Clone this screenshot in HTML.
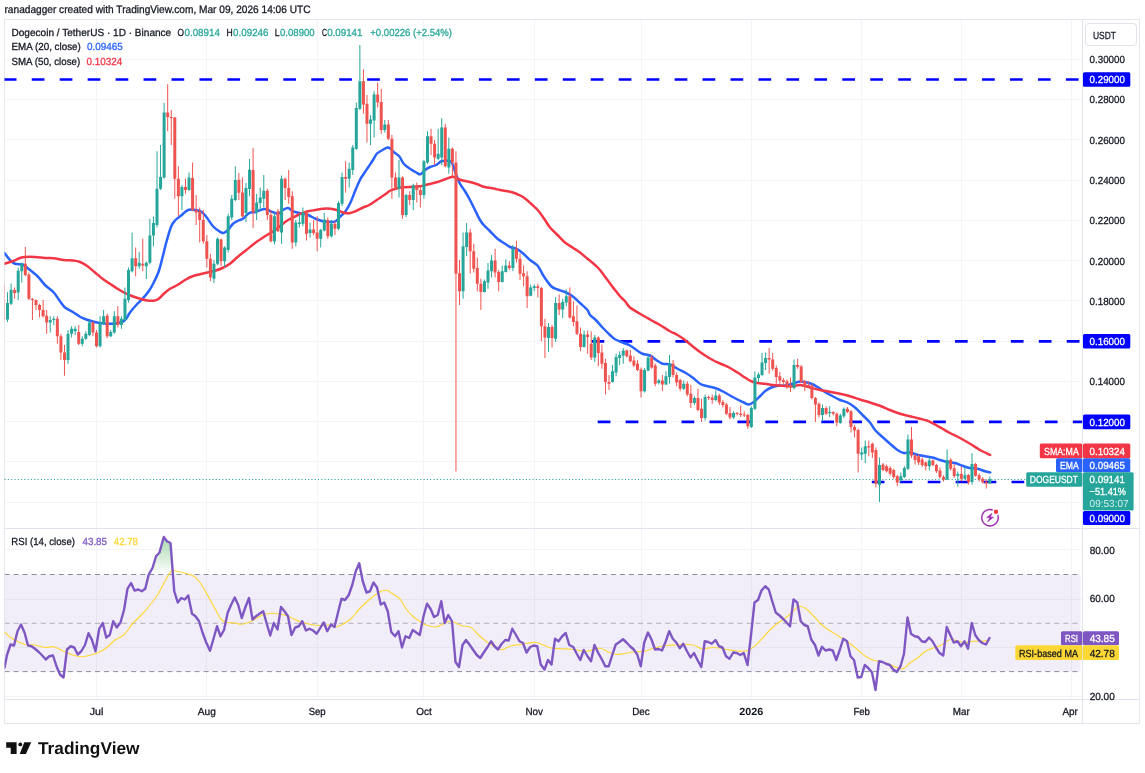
<!DOCTYPE html>
<html lang="en"><head><meta charset="utf-8"><title>DOGEUSDT chart</title>
<style>html,body{margin:0;padding:0;background:#fff}body{width:1145px;height:773px;position:relative;overflow:hidden;font-family:'Liberation Sans', sans-serif}</style>
</head><body>
<svg width="1145" height="773" viewBox="0 0 1145 773" style="position:absolute;left:0;top:0;font-family:'Liberation Sans', sans-serif;text-rendering:geometricPrecision">
<defs><linearGradient id="ob" gradientUnits="userSpaceOnUse" x1="0" y1="532" x2="0" y2="574.5"><stop offset="0" stop-color="#4caf50" stop-opacity="0.55"/><stop offset="1" stop-color="#4caf50" stop-opacity="0"/></linearGradient>
<clipPath id="cp"><rect x="4.5" y="19.5" width="1078.0" height="509.0"/></clipPath>
<clipPath id="cr"><rect x="4.5" y="528.5" width="1078.0" height="171.0"/></clipPath>
<clipPath id="c70"><rect x="4.5" y="528.5" width="1078.0" height="46.0"/></clipPath></defs>
<rect x="0" y="0" width="1145" height="773" fill="#fff"/>
<path d="M96.5 19.5V699.5 M206.5 19.5V699.5 M317.5 19.5V699.5 M423.5 19.5V699.5 M534.5 19.5V699.5 M641.5 19.5V699.5 M751.5 19.5V699.5 M861.5 19.5V699.5 M961.5 19.5V699.5 M1071.5 19.5V699.5 M4.5 59.5H1082.5 M4.5 99.5H1082.5 M4.5 139.5H1082.5 M4.5 180.5H1082.5 M4.5 220.5H1082.5 M4.5 260.5H1082.5 M4.5 300.5H1082.5 M4.5 341.5H1082.5 M4.5 381.5H1082.5 M4.5 421.5H1082.5 M4.5 461.5H1082.5 M4.5 502.5H1082.5 M4.5 549.5H1082.5 M4.5 599.5H1082.5 M4.5 647.5H1082.5 M4.5 696.5H1082.5" stroke="#f3f4f8" stroke-width="1" fill="none"/>
<rect x="4.5" y="574.50" width="1076.0" height="97.10" fill="#7e57c2" fill-opacity="0.1"/>
<path d="M4.5 574.50H1080" stroke="#787b86" stroke-opacity="0.85" stroke-width="1" stroke-dasharray="5 4.05" fill="none"/>
<path d="M4.5 671.60H1080" stroke="#787b86" stroke-opacity="0.85" stroke-width="1" stroke-dasharray="5 4.05" fill="none"/>
<path d="M4.5 623.30H1080" stroke="#787b86" stroke-opacity="0.55" stroke-width="1" stroke-dasharray="5 4.05" fill="none"/>
<rect x="4.5" y="19.5" width="1135.0" height="704.0" fill="none" stroke="#e4e6ed" stroke-width="1"/>
<path d="M4.5 528.5H1139.5M4.5 699.5H1139.5M1082.5 19.5V723.5" stroke="#e0e3eb" stroke-width="1" fill="none"/>
<path d="M4.5 479.5H1082.5" stroke="#26a69a" stroke-width="1" stroke-dasharray="1.1 2.2" fill="none"/>
<g clip-path="url(#cp)">
<path d="M3.8 79.50H1082.5" stroke="#0000ff" stroke-width="2.7" stroke-dasharray="12.7 15.25" fill="none"/>
<path d="M591.6 341.30H1082.5" stroke="#0000ff" stroke-width="2.7" stroke-dasharray="12.7 15.25" fill="none"/>
<path d="M597.7 421.90H1082.5" stroke="#0000ff" stroke-width="2.7" stroke-dasharray="12.7 15.25" fill="none"/>
<path d="M871.8 482.00H1026" stroke="#0000ff" stroke-width="2.7" stroke-dasharray="12.7 15.25" fill="none"/>
<path d="M4.50 253.00C5.42 254.17 8.25 258.21 10.00 260.00C11.75 261.79 12.92 263.00 15.00 263.75C17.08 264.50 20.42 263.79 22.50 264.50C24.58 265.21 25.00 266.04 27.50 268.00C30.00 269.96 34.58 273.42 37.50 276.25C40.42 279.08 42.29 282.29 45.00 285.00C47.71 287.71 51.25 289.79 53.75 292.50C56.25 295.21 58.12 298.75 60.00 301.25C61.88 303.75 62.92 305.75 65.00 307.50C67.08 309.25 70.00 310.21 72.50 311.75C75.00 313.29 77.71 315.46 80.00 316.75C82.29 318.04 83.96 318.67 86.25 319.50C88.54 320.33 91.46 321.17 93.75 321.75C96.04 322.33 97.71 322.67 100.00 323.00C102.29 323.33 105.00 323.67 107.50 323.75C110.00 323.83 112.50 323.83 115.00 323.50C117.50 323.17 120.62 322.54 122.50 321.75C124.38 320.96 125.00 320.29 126.25 318.75C127.50 317.21 128.33 314.79 130.00 312.50C131.67 310.21 134.17 307.29 136.25 305.00C138.33 302.71 140.42 301.04 142.50 298.75C144.58 296.46 146.88 293.96 148.75 291.25C150.62 288.54 152.08 285.83 153.75 282.50C155.42 279.17 157.29 275.42 158.75 271.25C160.21 267.08 161.25 262.29 162.50 257.50C163.75 252.71 164.79 247.71 166.25 242.50C167.71 237.29 169.71 230.00 171.25 226.25C172.79 222.50 173.75 221.88 175.50 220.00C177.25 218.12 179.67 216.67 181.75 215.00C183.83 213.33 185.71 210.83 188.00 210.00C190.29 209.17 193.21 209.67 195.50 210.00C197.79 210.33 199.88 210.75 201.75 212.00C203.62 213.25 204.88 215.12 206.75 217.50C208.62 219.88 210.92 223.96 213.00 226.25C215.08 228.54 217.50 230.12 219.25 231.25C221.00 232.38 222.04 233.21 223.50 233.00C224.96 232.79 226.42 231.54 228.00 230.00C229.58 228.46 231.33 225.29 233.00 223.75C234.67 222.21 236.33 221.58 238.00 220.75C239.67 219.92 241.12 220.04 243.00 218.75C244.88 217.46 247.17 214.12 249.25 213.00C251.33 211.88 253.00 212.67 255.50 212.00C258.00 211.33 261.75 209.12 264.25 209.00C266.75 208.88 268.21 210.46 270.50 211.25C272.79 212.04 275.92 213.96 278.00 213.75C280.08 213.54 281.33 210.96 283.00 210.00C284.67 209.04 286.33 207.79 288.00 208.00C289.67 208.21 290.92 210.38 293.00 211.25C295.08 212.12 298.00 212.62 300.50 213.25C303.00 213.88 305.50 214.08 308.00 215.00C310.50 215.92 313.00 217.71 315.50 218.75C318.00 219.79 320.50 220.71 323.00 221.25C325.50 221.79 328.42 222.00 330.50 222.00C332.58 222.00 333.83 222.21 335.50 221.25C337.17 220.29 338.83 217.92 340.50 216.25C342.17 214.58 343.83 213.54 345.50 211.25C347.17 208.96 348.83 206.04 350.50 202.50C352.17 198.96 353.83 193.96 355.50 190.00C357.17 186.04 359.25 181.25 360.50 178.75C361.75 176.25 361.75 176.88 363.00 175.00C364.25 173.12 366.33 170.00 368.00 167.50C369.67 165.00 371.54 162.29 373.00 160.00C374.46 157.71 375.29 155.33 376.75 153.75C378.21 152.17 379.96 151.54 381.75 150.50C383.54 149.46 386.04 147.79 387.50 147.50C388.96 147.21 389.38 147.92 390.50 148.75C391.62 149.58 392.79 151.25 394.25 152.50C395.71 153.75 397.67 154.38 399.25 156.25C400.83 158.12 401.96 161.67 403.75 163.75C405.54 165.83 407.92 167.29 410.00 168.75C412.08 170.21 414.50 171.58 416.25 172.50C418.00 173.42 419.04 174.67 420.50 174.25C421.96 173.83 423.42 171.21 425.00 170.00C426.58 168.79 428.12 167.83 430.00 167.00C431.88 166.17 434.38 165.96 436.25 165.00C438.12 164.04 439.58 161.96 441.25 161.25C442.92 160.54 444.58 160.67 446.25 160.75C447.92 160.83 450.00 160.62 451.25 161.75C452.50 162.88 452.92 165.29 453.75 167.50C454.58 169.71 455.21 172.29 456.25 175.00C457.29 177.71 458.54 181.04 460.00 183.75C461.46 186.46 463.33 188.54 465.00 191.25C466.67 193.96 468.33 196.88 470.00 200.00C471.67 203.12 473.33 206.67 475.00 210.00C476.67 213.33 478.54 217.50 480.00 220.00C481.46 222.50 482.08 223.12 483.75 225.00C485.42 226.88 487.71 228.96 490.00 231.25C492.29 233.54 495.00 236.67 497.50 238.75C500.00 240.83 502.92 242.38 505.00 243.75C507.08 245.12 508.12 246.17 510.00 247.00C511.88 247.83 514.17 247.75 516.25 248.75C518.33 249.75 520.21 251.12 522.50 253.00C524.79 254.88 527.50 257.92 530.00 260.00C532.50 262.08 535.21 262.79 537.50 265.50C539.79 268.21 541.46 272.79 543.75 276.25C546.04 279.71 548.96 284.04 551.25 286.25C553.54 288.46 555.21 288.54 557.50 289.50C559.79 290.46 562.50 290.88 565.00 292.00C567.50 293.12 570.00 294.42 572.50 296.25C575.00 298.08 577.50 300.71 580.00 303.00C582.50 305.29 585.83 308.00 587.50 310.00C589.17 312.00 588.54 313.25 590.00 315.00C591.46 316.75 594.17 318.42 596.25 320.50C598.33 322.58 600.21 325.08 602.50 327.50C604.79 329.92 607.92 333.04 610.00 335.00C612.08 336.96 612.92 338.00 615.00 339.25C617.08 340.50 620.00 341.46 622.50 342.50C625.00 343.54 627.50 344.12 630.00 345.50C632.50 346.88 635.42 349.38 637.50 350.75C639.58 352.12 640.42 352.96 642.50 353.75C644.58 354.54 647.71 354.46 650.00 355.50C652.29 356.54 654.17 358.62 656.25 360.00C658.33 361.38 660.21 363.00 662.50 363.75C664.79 364.50 667.50 363.67 670.00 364.50C672.50 365.33 675.00 367.42 677.50 368.75C680.00 370.08 682.50 371.04 685.00 372.50C687.50 373.96 690.00 375.62 692.50 377.50C695.00 379.38 697.50 382.29 700.00 383.75C702.50 385.21 705.00 385.54 707.50 386.25C710.00 386.96 712.50 387.17 715.00 388.00C717.50 388.83 720.00 390.00 722.50 391.25C725.00 392.50 727.50 394.12 730.00 395.50C732.50 396.88 735.21 398.33 737.50 399.50C739.79 400.67 741.88 401.67 743.75 402.50C745.62 403.33 747.08 404.58 748.75 404.50C750.42 404.42 751.88 403.38 753.75 402.00C755.62 400.62 758.12 398.04 760.00 396.25C761.88 394.46 763.12 392.71 765.00 391.25C766.88 389.79 769.17 388.42 771.25 387.50C773.33 386.58 775.21 386.08 777.50 385.75C779.79 385.42 782.50 385.83 785.00 385.50C787.50 385.17 790.21 384.38 792.50 383.75C794.79 383.12 796.67 382.04 798.75 381.75C800.83 381.46 802.92 381.67 805.00 382.00C807.08 382.33 809.17 382.92 811.25 383.75C813.33 384.58 815.42 385.75 817.50 387.00C819.58 388.25 821.46 389.83 823.75 391.25C826.04 392.67 828.54 394.04 831.25 395.50C833.96 396.96 837.29 398.83 840.00 400.00C842.71 401.17 845.00 401.25 847.50 402.50C850.00 403.75 852.50 405.42 855.00 407.50C857.50 409.58 860.00 412.50 862.50 415.00C865.00 417.50 867.92 420.00 870.00 422.50C872.08 425.00 872.92 427.58 875.00 430.00C877.08 432.42 880.00 434.71 882.50 437.00C885.00 439.29 887.50 441.58 890.00 443.75C892.50 445.92 895.21 448.46 897.50 450.00C899.79 451.54 901.67 452.58 903.75 453.00C905.83 453.42 907.92 452.25 910.00 452.50C912.08 452.75 913.75 453.88 916.25 454.50C918.75 455.12 922.29 455.75 925.00 456.25C927.71 456.75 930.00 456.88 932.50 457.50C935.00 458.12 937.50 459.25 940.00 460.00C942.50 460.75 945.00 461.50 947.50 462.00C950.00 462.50 952.50 462.38 955.00 463.00C957.50 463.62 960.00 464.92 962.50 465.75C965.00 466.58 967.50 467.50 970.00 468.00C972.50 468.50 975.00 468.21 977.50 468.75C980.00 469.29 982.88 470.64 985.00 471.25C987.12 471.86 989.33 472.21 990.20 472.40" stroke="#2962ff" stroke-width="2.5" fill="none" stroke-linejoin="round" stroke-linecap="round"/>
<path d="M4.50 263.75C5.83 263.33 9.92 262.21 12.50 261.25C15.08 260.29 17.92 258.71 20.00 258.00C22.08 257.29 22.50 257.17 25.00 257.00C27.50 256.83 31.67 256.83 35.00 257.00C38.33 257.17 41.88 257.79 45.00 258.00C48.12 258.21 50.62 257.92 53.75 258.25C56.88 258.58 60.62 259.62 63.75 260.00C66.88 260.38 69.79 260.17 72.50 260.50C75.21 260.83 77.50 261.04 80.00 262.00C82.50 262.96 85.00 264.50 87.50 266.25C90.00 268.00 92.50 270.42 95.00 272.50C97.50 274.58 100.00 276.88 102.50 278.75C105.00 280.62 107.50 282.08 110.00 283.75C112.50 285.42 115.00 287.21 117.50 288.75C120.00 290.29 122.50 291.75 125.00 293.00C127.50 294.25 130.00 295.29 132.50 296.25C135.00 297.21 137.50 298.04 140.00 298.75C142.50 299.46 145.21 300.17 147.50 300.50C149.79 300.83 151.88 301.04 153.75 300.75C155.62 300.46 157.08 299.92 158.75 298.75C160.42 297.58 161.88 295.42 163.75 293.75C165.62 292.08 167.71 290.21 170.00 288.75C172.29 287.29 175.00 286.46 177.50 285.00C180.00 283.54 182.50 281.46 185.00 280.00C187.50 278.54 190.00 277.21 192.50 276.25C195.00 275.29 197.50 274.88 200.00 274.25C202.50 273.62 205.00 273.08 207.50 272.50C210.00 271.92 212.50 271.50 215.00 270.75C217.50 270.00 220.00 269.17 222.50 268.00C225.00 266.83 227.50 265.58 230.00 263.75C232.50 261.92 234.79 259.29 237.50 257.00C240.21 254.71 243.33 252.33 246.25 250.00C249.17 247.67 251.88 245.29 255.00 243.00C258.12 240.71 261.67 238.42 265.00 236.25C268.33 234.08 271.46 232.50 275.00 230.00C278.54 227.50 283.25 223.33 286.25 221.25C289.25 219.17 290.62 218.75 293.00 217.50C295.38 216.25 298.00 214.79 300.50 213.75C303.00 212.71 305.50 211.88 308.00 211.25C310.50 210.62 313.00 210.42 315.50 210.00C318.00 209.58 320.50 208.96 323.00 208.75C325.50 208.54 328.21 208.54 330.50 208.75C332.79 208.96 334.67 209.38 336.75 210.00C338.83 210.62 340.92 211.96 343.00 212.50C345.08 213.04 347.17 213.46 349.25 213.25C351.33 213.04 353.21 212.21 355.50 211.25C357.79 210.29 360.71 208.54 363.00 207.50C365.29 206.46 366.96 206.25 369.25 205.00C371.54 203.75 374.25 201.67 376.75 200.00C379.25 198.33 381.96 196.58 384.25 195.00C386.54 193.42 388.21 191.67 390.50 190.50C392.79 189.33 396.42 188.50 398.00 188.00C399.58 187.50 398.00 187.67 400.00 187.50C402.00 187.33 406.67 187.21 410.00 187.00C413.33 186.79 417.08 186.67 420.00 186.25C422.92 185.83 424.58 185.21 427.50 184.50C430.42 183.79 434.58 182.88 437.50 182.00C440.42 181.12 442.50 180.12 445.00 179.25C447.50 178.38 450.62 176.92 452.50 176.75C454.38 176.58 454.58 177.62 456.25 178.25C457.92 178.88 460.21 179.88 462.50 180.50C464.79 181.12 467.50 181.38 470.00 182.00C472.50 182.62 475.21 183.46 477.50 184.25C479.79 185.04 481.25 186.08 483.75 186.75C486.25 187.42 489.79 187.71 492.50 188.25C495.21 188.79 497.08 189.42 500.00 190.00C502.92 190.58 507.08 191.04 510.00 191.75C512.92 192.46 515.21 193.29 517.50 194.25C519.79 195.21 521.25 195.71 523.75 197.50C526.25 199.29 530.00 202.71 532.50 205.00C535.00 207.29 536.67 208.75 538.75 211.25C540.83 213.75 543.12 217.29 545.00 220.00C546.88 222.71 547.92 225.00 550.00 227.50C552.08 230.00 555.00 232.50 557.50 235.00C560.00 237.50 562.50 240.42 565.00 242.50C567.50 244.58 570.00 245.83 572.50 247.50C575.00 249.17 577.50 250.62 580.00 252.50C582.50 254.38 585.00 256.67 587.50 258.75C590.00 260.83 592.92 263.12 595.00 265.00C597.08 266.88 597.92 267.50 600.00 270.00C602.08 272.50 605.00 276.67 607.50 280.00C610.00 283.33 612.92 287.29 615.00 290.00C617.08 292.71 618.33 294.38 620.00 296.25C621.67 298.12 623.33 299.38 625.00 301.25C626.67 303.12 627.50 305.42 630.00 307.50C632.50 309.58 636.67 311.75 640.00 313.75C643.33 315.75 646.67 317.62 650.00 319.50C653.33 321.38 656.67 323.04 660.00 325.00C663.33 326.96 667.08 329.58 670.00 331.25C672.92 332.92 675.00 333.54 677.50 335.00C680.00 336.46 682.50 338.12 685.00 340.00C687.50 341.88 690.00 344.25 692.50 346.25C695.00 348.25 697.50 350.21 700.00 352.00C702.50 353.79 705.00 355.46 707.50 357.00C710.00 358.54 712.50 360.00 715.00 361.25C717.50 362.50 720.00 363.38 722.50 364.50C725.00 365.62 727.50 366.67 730.00 368.00C732.50 369.33 735.00 370.92 737.50 372.50C740.00 374.08 742.71 376.04 745.00 377.50C747.29 378.96 749.17 380.33 751.25 381.25C753.33 382.17 755.21 382.58 757.50 383.00C759.79 383.42 762.50 383.42 765.00 383.75C767.50 384.08 769.58 384.67 772.50 385.00C775.42 385.33 779.17 385.54 782.50 385.75C785.83 385.96 789.58 386.38 792.50 386.25C795.42 386.12 797.08 384.79 800.00 385.00C802.92 385.21 806.67 386.67 810.00 387.50C813.33 388.33 816.67 389.29 820.00 390.00C823.33 390.71 826.67 391.12 830.00 391.75C833.33 392.38 836.67 393.00 840.00 393.75C843.33 394.50 846.67 395.29 850.00 396.25C853.33 397.21 856.67 398.46 860.00 399.50C863.33 400.54 866.67 401.46 870.00 402.50C873.33 403.54 876.67 404.50 880.00 405.75C883.33 407.00 886.67 408.67 890.00 410.00C893.33 411.33 896.67 412.71 900.00 413.75C903.33 414.79 906.67 415.42 910.00 416.25C913.33 417.08 917.08 418.00 920.00 418.75C922.92 419.50 925.00 419.79 927.50 420.75C930.00 421.71 932.50 423.17 935.00 424.50C937.50 425.83 940.00 427.33 942.50 428.75C945.00 430.17 947.08 431.46 950.00 433.00C952.92 434.54 956.67 436.21 960.00 438.00C963.33 439.79 966.67 441.75 970.00 443.75C973.33 445.75 976.63 448.12 980.00 450.00C983.37 451.88 988.50 454.17 990.20 455.00" stroke="#f23645" stroke-width="2.5" fill="none" stroke-linejoin="round" stroke-linecap="round"/>
<path d="M7.52 292.20V322.00M11.08 283.40V305.00M18.20 267.50V300.00M21.76 262.50V282.50M50.23 316.25V332.50M53.79 316.25V325.00M68.03 330.00V363.75M71.59 326.25V337.50M75.15 326.25V335.00M82.26 336.25V346.25M85.82 331.25V340.00M89.38 320.00V336.25M100.06 316.25V347.50M103.62 310.00V325.00M110.74 330.00V337.00M114.30 311.25V333.75M121.41 316.25V328.75M124.97 287.50V321.25M128.53 267.50V302.50M132.09 232.50V272.50M139.21 252.00V268.70M146.33 261.50V279.00M149.88 218.90V264.50M153.44 216.40V246.20M157.00 151.25V227.50M160.56 145.00V190.00M164.12 103.00V178.75M181.92 185.00V210.00M189.03 172.50V191.25M213.95 260.00V283.00M217.51 237.50V265.00M224.62 246.25V267.50M228.18 213.75V252.50M231.74 195.00V220.00M235.30 166.25V201.25M245.98 183.00V222.00M249.54 159.00V196.30M256.65 193.75V220.00M260.21 187.50V210.00M263.77 175.00V207.50M274.45 212.90V244.40M281.57 175.50V243.75M295.80 220.00V246.25M299.36 213.75V227.50M302.92 207.50V226.25M310.04 222.50V237.50M320.72 228.75V247.50M324.28 213.00V231.50M331.39 220.00V237.50M338.51 201.25V230.00M342.07 172.50V206.25M349.19 162.50V187.50M352.75 145.00V175.00M356.31 102.50V150.00M359.87 45.00V110.00M370.54 115.00V145.00M374.10 91.25V137.50M384.78 120.00V132.50M399.01 160.00V197.50M406.13 193.75V217.00M413.25 183.75V210.00M423.93 160.00V198.75M427.49 131.25V163.75M438.16 128.75V160.00M441.72 118.25V165.00M448.84 137.50V173.75M463.08 232.50V298.75M466.64 223.00V256.25M484.43 279.50V292.50M487.99 263.00V288.75M491.55 255.00V277.50M502.23 265.50V282.50M505.79 259.50V272.50M512.90 245.00V271.25M530.70 284.50V296.25M534.26 284.50V291.25M548.49 323.00V352.00M555.61 297.00V342.00M562.73 298.75V318.00M566.29 289.50V306.25M584.08 330.50V347.50M594.76 335.00V362.00M612.56 365.00V382.50M616.11 353.75V376.25M619.67 351.25V365.00M623.23 348.00V363.75M644.59 368.00V392.50M648.14 355.50V371.25M658.82 378.75V384.50M665.94 371.25V385.00M669.50 355.00V383.75M683.74 380.50V390.00M694.41 396.25V405.00M705.09 394.50V420.50M715.77 390.50V401.25M733.56 411.25V418.75M751.36 406.25V428.00M754.92 371.25V410.00M758.47 372.50V382.00M762.03 353.00V376.25M765.59 352.50V370.00M794.06 359.50V389.50M822.54 404.50V421.25M829.65 406.25V417.00M840.33 413.75V423.75M843.89 407.50V418.00M861.69 447.50V460.00M865.24 440.50V463.00M879.48 457.50V502.00M900.83 472.50V482.00M904.39 466.25V478.00M907.95 434.50V470.00M929.31 457.50V470.50M947.10 449.30V480.20M957.78 471.40V486.60M964.90 466.80V479.60M972.01 453.20V484.60M989.81 476.50V483.80" stroke="#26a69a" stroke-width="1" fill="none"/>
<path d="M3.97 284.00V320.00M14.64 287.50V298.75M25.32 247.00V276.25M28.88 272.50V300.00M32.44 298.25V320.00M36.00 299.50V310.00M39.56 303.75V317.50M43.11 300.00V317.50M46.67 310.00V333.75M57.35 316.25V343.75M60.91 333.75V360.00M64.47 345.00V375.75M78.70 325.00V345.00M92.94 321.25V336.25M96.50 330.00V347.50M107.18 313.75V338.00M117.85 306.25V327.50M135.65 247.50V276.25M142.77 238.75V271.25M167.68 84.25V131.25M171.24 110.00V145.00M174.80 117.00V198.75M178.36 166.25V216.25M185.48 178.75V193.75M192.59 162.50V211.25M196.15 195.00V225.00M199.71 207.50V242.50M203.27 210.00V243.75M206.83 235.00V267.50M210.39 253.75V281.25M221.06 238.75V266.25M238.86 173.00V200.00M242.42 177.50V217.50M253.10 148.00V228.00M267.33 188.75V220.00M270.89 210.00V242.50M278.01 208.80V232.00M285.13 177.50V200.00M288.69 170.00V203.75M292.25 191.25V248.75M306.48 210.00V240.50M313.60 220.00V235.00M317.16 216.25V251.25M327.84 217.50V238.75M334.95 221.25V235.00M345.63 161.25V192.50M363.43 69.50V113.75M366.98 95.00V142.50M377.66 82.50V107.50M381.22 88.75V133.75M388.34 120.00V140.00M391.90 135.00V198.75M395.46 172.50V190.00M402.57 176.25V218.75M409.69 191.25V205.00M416.81 182.50V202.50M420.37 185.00V207.50M431.05 128.75V155.00M434.61 140.00V165.00M445.28 123.75V167.50M452.40 147.50V176.25M455.96 151.25V471.50M459.52 260.00V305.00M470.19 228.75V273.75M473.75 243.75V272.50M477.31 257.50V291.25M480.87 278.75V310.00M495.11 248.75V277.50M498.67 270.00V291.25M509.34 261.25V270.00M516.46 240.75V262.50M520.02 253.75V280.00M523.58 265.50V286.25M527.14 271.25V308.00M537.82 283.75V297.50M541.38 287.00V341.25M544.93 318.75V358.00M552.05 325.00V347.50M559.17 294.50V315.00M569.85 287.50V318.75M573.41 301.25V326.25M576.97 305.50V335.00M580.52 327.50V351.25M587.64 330.50V353.75M591.20 331.25V360.00M598.32 336.25V366.25M601.88 344.50V368.75M605.44 358.75V394.50M609.00 375.00V390.00M626.79 349.50V357.50M630.35 350.00V362.50M633.91 356.25V367.00M637.47 360.00V371.25M641.03 367.50V397.50M651.70 355.00V368.75M655.26 363.75V386.25M662.38 375.00V391.25M673.06 360.00V377.50M676.62 372.50V386.25M680.18 378.75V391.25M687.29 381.25V396.25M690.85 385.00V408.00M697.97 388.75V411.25M701.53 398.75V422.00M708.65 395.50V400.00M712.21 394.50V403.75M719.33 393.75V405.00M722.88 400.00V407.50M726.44 403.00V415.00M730.00 407.00V419.50M737.12 412.00V415.50M740.68 405.50V417.00M744.24 411.25V417.00M747.80 413.75V428.75M769.15 348.00V373.75M772.71 353.00V370.50M776.27 365.50V383.75M779.83 372.00V383.75M783.39 378.00V383.75M786.95 379.50V388.75M790.50 377.50V392.00M797.62 358.75V368.75M801.18 365.00V383.00M804.74 380.00V391.25M808.30 381.25V388.00M811.86 383.75V399.50M815.42 397.00V422.00M818.98 402.50V417.50M826.10 406.25V415.00M833.21 411.25V415.50M836.77 412.50V426.25M847.45 407.00V413.00M851.01 410.00V432.50M854.57 425.00V437.50M858.13 428.75V472.50M868.80 440.50V456.25M872.36 442.50V458.00M875.92 447.50V487.50M883.04 463.00V471.25M886.60 464.50V472.50M890.16 466.25V475.50M893.72 468.75V478.75M897.28 475.00V486.25M911.51 427.00V458.00M915.07 453.75V464.50M918.63 454.50V465.00M922.19 457.50V467.00M925.75 461.25V470.50M932.87 459.50V466.25M936.42 463.75V473.00M939.98 467.50V478.75M943.54 475.30V481.50M950.66 458.20V470.70M954.22 464.10V478.00M961.34 466.40V481.10M968.46 474.10V484.60M975.57 462.90V476.50M979.13 473.40V481.50M982.69 477.20V483.50M986.25 479.20V488.50" stroke="#ef5350" stroke-width="1" fill="none"/>
<path d="M6.02 303.00h3.0V319.60h-3.0zM9.58 289.80h3.0V303.80h-3.0zM16.70 270.75h3.0V292.50h-3.0zM20.26 263.75h3.0V271.25h-3.0zM48.73 320.00h3.0V322.50h-3.0zM52.29 318.75h3.0V320.00h-3.0zM66.53 333.75h3.0V360.00h-3.0zM70.09 328.75h3.0V333.75h-3.0zM73.65 328.75h3.0V331.25h-3.0zM80.76 338.75h3.0V343.75h-3.0zM84.32 333.75h3.0V338.75h-3.0zM87.88 322.50h3.0V335.00h-3.0zM98.56 322.50h3.0V346.25h-3.0zM102.12 316.25h3.0V323.75h-3.0zM109.24 332.00h3.0V336.25h-3.0zM112.80 316.25h3.0V332.50h-3.0zM119.91 318.75h3.0V325.00h-3.0zM123.47 298.75h3.0V320.00h-3.0zM127.03 270.00h3.0V300.00h-3.0zM130.59 258.25h3.0V271.25h-3.0zM137.71 262.80h3.0V266.20h-3.0zM144.83 262.80h3.0V266.20h-3.0zM148.38 235.50h3.0V262.80h-3.0zM151.94 223.00h3.0V235.50h-3.0zM155.50 188.75h3.0V225.00h-3.0zM159.06 177.00h3.0V188.75h-3.0zM162.62 112.50h3.0V177.50h-3.0zM180.42 187.00h3.0V196.25h-3.0zM187.53 177.50h3.0V190.00h-3.0zM212.45 263.75h3.0V278.75h-3.0zM216.01 238.75h3.0V263.75h-3.0zM223.12 247.50h3.0V261.25h-3.0zM226.68 216.25h3.0V250.00h-3.0zM230.24 198.75h3.0V217.50h-3.0zM233.80 180.00h3.0V200.00h-3.0zM244.48 188.00h3.0V213.00h-3.0zM248.04 169.80h3.0V188.90h-3.0zM255.15 202.50h3.0V212.50h-3.0zM258.71 197.50h3.0V203.00h-3.0zM262.27 190.75h3.0V198.75h-3.0zM272.95 216.20h3.0V241.40h-3.0zM280.07 178.75h3.0V232.50h-3.0zM294.30 222.50h3.0V242.50h-3.0zM297.86 222.50h3.0V224.00h-3.0zM301.42 212.50h3.0V223.75h-3.0zM308.54 229.50h3.0V233.00h-3.0zM319.22 230.00h3.0V238.75h-3.0zM322.78 219.60h3.0V230.40h-3.0zM329.89 223.75h3.0V236.25h-3.0zM337.01 203.00h3.0V228.75h-3.0zM340.57 177.00h3.0V203.75h-3.0zM347.69 168.75h3.0V178.75h-3.0zM351.25 147.50h3.0V170.00h-3.0zM354.81 108.00h3.0V148.75h-3.0zM358.37 81.25h3.0V108.75h-3.0zM369.04 119.50h3.0V123.75h-3.0zM372.60 94.50h3.0V120.50h-3.0zM383.28 124.50h3.0V130.00h-3.0zM397.51 177.50h3.0V188.75h-3.0zM404.63 195.00h3.0V215.00h-3.0zM411.75 185.50h3.0V200.00h-3.0zM422.43 161.25h3.0V195.00h-3.0zM425.99 136.25h3.0V162.50h-3.0zM436.66 153.75h3.0V158.75h-3.0zM440.22 127.50h3.0V157.50h-3.0zM447.34 148.75h3.0V167.50h-3.0zM461.58 246.25h3.0V291.25h-3.0zM465.14 232.50h3.0V247.00h-3.0zM482.93 281.25h3.0V292.00h-3.0zM486.49 270.50h3.0V282.50h-3.0zM490.05 260.50h3.0V271.25h-3.0zM500.73 271.25h3.0V282.00h-3.0zM504.29 265.50h3.0V272.00h-3.0zM511.40 248.75h3.0V268.00h-3.0zM529.20 287.50h3.0V295.75h-3.0zM532.76 286.25h3.0V288.00h-3.0zM546.99 327.00h3.0V338.00h-3.0zM554.11 303.00h3.0V338.75h-3.0zM561.23 302.00h3.0V309.50h-3.0zM564.79 296.25h3.0V302.50h-3.0zM582.58 334.50h3.0V347.00h-3.0zM593.26 337.50h3.0V357.50h-3.0zM611.06 371.25h3.0V382.00h-3.0zM614.61 357.00h3.0V372.50h-3.0zM618.17 355.00h3.0V358.00h-3.0zM621.73 350.50h3.0V355.50h-3.0zM643.09 370.00h3.0V391.25h-3.0zM646.64 357.50h3.0V370.50h-3.0zM657.32 380.50h3.0V383.00h-3.0zM664.44 376.25h3.0V384.50h-3.0zM668.00 363.75h3.0V377.00h-3.0zM682.24 383.75h3.0V388.75h-3.0zM692.91 398.00h3.0V403.00h-3.0zM703.59 397.00h3.0V418.00h-3.0zM714.27 395.50h3.0V400.00h-3.0zM732.06 413.00h3.0V417.50h-3.0zM749.86 408.00h3.0V427.00h-3.0zM753.42 377.50h3.0V408.75h-3.0zM756.97 374.50h3.0V378.00h-3.0zM760.53 362.50h3.0V375.00h-3.0zM764.09 358.00h3.0V363.00h-3.0zM792.56 365.00h3.0V388.00h-3.0zM821.04 408.00h3.0V415.00h-3.0zM828.15 412.00h3.0V413.00h-3.0zM838.83 415.50h3.0V423.00h-3.0zM842.39 408.75h3.0V416.25h-3.0zM860.19 452.50h3.0V454.50h-3.0zM863.74 446.25h3.0V453.75h-3.0zM877.98 465.00h3.0V485.00h-3.0zM899.33 476.25h3.0V480.50h-3.0zM902.89 468.00h3.0V477.00h-3.0zM906.45 439.50h3.0V468.75h-3.0zM927.81 460.50h3.0V466.25h-3.0zM945.60 460.20h3.0V479.60h-3.0zM956.28 474.10h3.0V475.70h-3.0zM963.40 475.30h3.0V478.80h-3.0zM970.51 464.10h3.0V481.90h-3.0zM988.31 479.20h3.0V483.50h-3.0z" fill="#26a69a"/>
<path d="M13.14 290.00h3.0V293.00h-3.0zM23.82 263.75h3.0V275.00h-3.0zM27.38 274.50h3.0V298.75h-3.0zM30.94 298.75h3.0V300.00h-3.0zM34.50 300.00h3.0V305.00h-3.0zM38.06 305.00h3.0V310.00h-3.0zM41.61 310.00h3.0V316.25h-3.0zM45.17 315.75h3.0V322.50h-3.0zM55.85 318.75h3.0V336.25h-3.0zM59.41 336.25h3.0V352.50h-3.0zM62.97 352.50h3.0V360.00h-3.0zM77.20 332.00h3.0V343.75h-3.0zM91.44 322.50h3.0V332.50h-3.0zM95.00 332.50h3.0V346.25h-3.0zM105.68 315.75h3.0V336.25h-3.0zM116.35 316.25h3.0V325.00h-3.0zM134.15 258.25h3.0V266.25h-3.0zM141.27 263.75h3.0V265.50h-3.0zM166.18 112.50h3.0V117.00h-3.0zM169.74 117.00h3.0V118.00h-3.0zM173.30 117.50h3.0V178.75h-3.0zM176.86 178.75h3.0V196.25h-3.0zM183.98 187.00h3.0V190.00h-3.0zM191.09 178.00h3.0V210.00h-3.0zM194.65 210.00h3.0V212.50h-3.0zM198.21 211.25h3.0V220.00h-3.0zM201.77 220.00h3.0V241.25h-3.0zM205.33 241.25h3.0V258.75h-3.0zM208.89 258.75h3.0V277.50h-3.0zM219.56 239.50h3.0V261.25h-3.0zM237.36 179.75h3.0V192.70h-3.0zM240.92 192.50h3.0V216.25h-3.0zM251.60 170.00h3.0V212.50h-3.0zM265.83 190.75h3.0V215.00h-3.0zM269.39 215.00h3.0V241.25h-3.0zM276.51 211.30h3.0V231.20h-3.0zM283.63 178.75h3.0V188.00h-3.0zM287.19 188.00h3.0V197.00h-3.0zM290.75 196.25h3.0V242.50h-3.0zM304.98 212.50h3.0V233.75h-3.0zM312.10 229.50h3.0V233.00h-3.0zM315.66 232.50h3.0V238.75h-3.0zM326.34 220.00h3.0V236.25h-3.0zM333.45 223.75h3.0V228.75h-3.0zM344.13 177.00h3.0V178.75h-3.0zM361.93 81.25h3.0V104.50h-3.0zM365.48 103.75h3.0V123.75h-3.0zM376.16 94.50h3.0V102.50h-3.0zM379.72 102.00h3.0V130.00h-3.0zM386.84 124.50h3.0V138.75h-3.0zM390.40 138.75h3.0V177.50h-3.0zM393.96 177.50h3.0V187.50h-3.0zM401.07 177.50h3.0V215.00h-3.0zM408.19 195.00h3.0V200.00h-3.0zM415.31 186.25h3.0V190.00h-3.0zM418.87 190.00h3.0V195.00h-3.0zM429.55 136.25h3.0V143.75h-3.0zM433.11 143.75h3.0V157.50h-3.0zM443.78 127.50h3.0V166.25h-3.0zM450.90 148.75h3.0V162.50h-3.0zM454.46 162.50h3.0V273.75h-3.0zM458.02 273.25h3.0V291.25h-3.0zM468.69 232.50h3.0V251.25h-3.0zM472.25 251.25h3.0V268.75h-3.0zM475.81 268.00h3.0V283.75h-3.0zM479.37 283.75h3.0V292.00h-3.0zM493.61 260.50h3.0V272.50h-3.0zM497.17 272.00h3.0V282.00h-3.0zM507.84 265.50h3.0V268.00h-3.0zM514.96 248.75h3.0V258.75h-3.0zM518.52 258.75h3.0V273.75h-3.0zM522.08 273.25h3.0V276.25h-3.0zM525.64 276.25h3.0V296.25h-3.0zM536.32 286.25h3.0V288.00h-3.0zM539.88 288.00h3.0V326.25h-3.0zM543.43 326.25h3.0V337.50h-3.0zM550.55 327.00h3.0V338.00h-3.0zM557.67 303.00h3.0V309.50h-3.0zM568.35 296.25h3.0V317.50h-3.0zM571.91 316.25h3.0V322.00h-3.0zM575.47 321.25h3.0V333.75h-3.0zM579.02 333.75h3.0V347.00h-3.0zM586.14 334.50h3.0V337.00h-3.0zM589.70 343.75h3.0V357.50h-3.0zM596.82 337.50h3.0V353.00h-3.0zM600.38 352.50h3.0V363.75h-3.0zM603.94 363.00h3.0V382.00h-3.0zM607.50 382.00h3.0V383.75h-3.0zM625.29 350.50h3.0V356.25h-3.0zM628.85 355.50h3.0V361.25h-3.0zM632.41 360.50h3.0V365.50h-3.0zM635.97 363.75h3.0V370.00h-3.0zM639.53 369.50h3.0V391.25h-3.0zM650.20 357.50h3.0V367.50h-3.0zM653.76 365.50h3.0V383.75h-3.0zM660.88 380.50h3.0V384.50h-3.0zM671.56 363.75h3.0V375.00h-3.0zM675.12 375.00h3.0V382.50h-3.0zM678.68 380.00h3.0V388.75h-3.0zM685.79 383.75h3.0V394.50h-3.0zM689.35 393.75h3.0V403.00h-3.0zM696.47 398.00h3.0V410.00h-3.0zM700.03 408.75h3.0V418.00h-3.0zM707.15 397.00h3.0V398.00h-3.0zM710.71 397.50h3.0V400.00h-3.0zM717.83 395.50h3.0V402.50h-3.0zM721.38 402.00h3.0V405.00h-3.0zM724.94 404.50h3.0V413.75h-3.0zM728.50 413.00h3.0V417.50h-3.0zM735.62 413.00h3.0V414.00h-3.0zM739.18 413.75h3.0V415.00h-3.0zM742.74 414.50h3.0V415.50h-3.0zM746.30 415.00h3.0V426.25h-3.0zM767.65 358.00h3.0V359.50h-3.0zM771.21 359.50h3.0V368.75h-3.0zM774.77 368.00h3.0V377.00h-3.0zM778.33 376.25h3.0V380.50h-3.0zM781.89 380.00h3.0V382.00h-3.0zM785.45 381.25h3.0V386.25h-3.0zM789.00 385.00h3.0V387.50h-3.0zM796.12 365.00h3.0V367.00h-3.0zM799.68 366.50h3.0V382.00h-3.0zM803.24 381.25h3.0V387.00h-3.0zM806.80 385.00h3.0V386.25h-3.0zM810.36 385.50h3.0V398.00h-3.0zM813.92 398.00h3.0V404.50h-3.0zM817.48 403.75h3.0V415.00h-3.0zM824.60 408.00h3.0V413.75h-3.0zM831.71 412.00h3.0V413.75h-3.0zM835.27 413.75h3.0V422.50h-3.0zM845.95 408.75h3.0V412.00h-3.0zM849.51 411.25h3.0V427.00h-3.0zM853.07 427.00h3.0V430.50h-3.0zM856.63 430.00h3.0V453.75h-3.0zM867.30 446.25h3.0V447.50h-3.0zM870.86 443.75h3.0V452.50h-3.0zM874.42 450.00h3.0V483.75h-3.0zM881.54 464.50h3.0V470.00h-3.0zM885.10 466.25h3.0V471.25h-3.0zM888.66 468.00h3.0V473.75h-3.0zM892.22 470.00h3.0V477.00h-3.0zM895.78 476.25h3.0V482.50h-3.0zM910.01 439.50h3.0V455.50h-3.0zM913.57 455.50h3.0V460.00h-3.0zM917.13 456.25h3.0V462.50h-3.0zM920.69 459.50h3.0V465.00h-3.0zM924.25 462.50h3.0V466.25h-3.0zM931.37 460.50h3.0V465.00h-3.0zM934.92 465.00h3.0V471.25h-3.0zM938.48 470.50h3.0V477.00h-3.0zM942.04 476.90h3.0V479.60h-3.0zM949.16 459.80h3.0V468.70h-3.0zM952.72 468.30h3.0V476.10h-3.0zM959.84 474.10h3.0V478.80h-3.0zM966.96 474.90h3.0V482.30h-3.0zM974.07 464.10h3.0V475.70h-3.0zM977.63 475.30h3.0V479.60h-3.0zM981.19 478.80h3.0V482.30h-3.0zM984.75 481.90h3.0V483.50h-3.0z" fill="#ef5350"/>
</g>
<g clip-path="url(#c70)"><path d="M4.50 667.50L7.00 655.00L10.50 644.50L14.00 645.50L17.50 631.25L21.00 624.50L24.50 632.50L28.00 645.50L31.50 646.25L35.00 648.75L38.75 652.00L42.25 655.50L45.75 659.50L49.25 656.25L53.00 655.50L56.50 666.25L60.00 674.50L63.50 677.50L67.00 649.50L70.75 646.25L74.25 647.50L77.75 654.50L81.25 651.25L85.00 645.00L88.50 633.25L92.00 640.00L95.50 651.25L99.25 628.75L102.75 623.00L106.25 637.50L109.75 635.00L113.25 621.25L116.75 627.50L120.50 622.50L124.00 610.00L127.50 588.75L131.00 583.00L134.50 590.50L138.25 589.50L141.75 591.25L145.25 588.75L148.75 574.50L152.50 568.00L156.00 556.25L159.50 552.50L163.75 537.00L167.00 541.25L170.50 543.00L174.25 591.25L177.75 602.50L181.25 598.00L184.75 599.50L188.25 595.50L192.00 613.75L195.50 616.25L199.00 621.25L202.50 632.50L206.00 642.00L210.00 650.75L213.50 638.75L217.00 626.25L220.50 636.25L224.00 630.00L227.75 612.50L231.25 604.50L234.75 597.50L238.25 605.00L241.75 618.00L245.25 607.50L249.00 598.00L252.50 619.50L256.00 616.25L259.50 613.75L263.25 611.25L266.75 623.75L270.25 635.50L273.75 623.00L277.50 629.50L281.00 607.00L284.50 611.25L288.00 616.25L291.50 635.00L295.25 627.50L298.75 626.25L302.25 621.25L306.00 630.50L309.50 628.75L313.00 630.50L316.75 633.75L320.25 628.00L323.75 622.50L327.25 631.25L331.00 624.50L334.50 627.00L338.00 612.50L341.50 598.75L345.00 600.00L348.75 595.00L352.25 585.00L355.75 571.25L359.25 563.25L362.75 581.25L366.50 592.50L370.00 591.25L373.50 582.50L377.00 587.50L380.75 604.50L384.25 602.50L387.75 611.25L391.25 632.00L395.00 636.25L398.50 631.25L402.00 647.50L405.50 636.25L409.25 638.00L412.75 630.00L416.25 632.50L419.75 635.00L423.50 616.25L427.00 603.75L430.50 608.75L434.00 617.00L437.75 615.00L441.25 601.25L444.75 623.00L448.25 615.00L452.00 621.25L455.50 662.00L459.00 667.00L462.50 645.00L466.00 640.00L469.75 645.00L473.25 650.00L476.75 655.00L480.25 658.00L483.75 652.50L487.50 647.00L491.00 641.25L494.50 646.25L498.00 649.50L501.75 643.75L505.25 640.00L508.75 640.50L512.25 628.75L516.00 635.00L519.50 641.25L523.00 643.00L526.50 652.50L530.25 647.00L533.75 645.50L537.25 646.25L540.75 664.50L544.50 669.50L548.00 660.00L551.50 664.50L555.00 638.75L558.50 641.25L562.25 636.25L565.75 633.00L569.25 645.00L573.25 647.00L576.75 653.75L580.25 660.00L583.75 650.00L587.50 656.25L591.00 661.25L594.50 645.00L598.00 652.50L601.50 658.75L605.25 666.25L608.75 666.25L612.25 655.00L615.75 644.50L619.50 642.00L623.00 639.25L626.50 642.50L630.00 646.25L633.75 649.50L637.25 654.50L640.75 666.25L644.25 642.50L648.00 632.50L651.50 639.50L655.00 649.50L658.50 649.00L662.00 650.50L665.50 642.00L669.25 631.25L672.75 638.75L676.25 642.50L679.75 648.25L683.25 643.75L687.00 651.25L690.50 657.50L694.00 653.00L697.50 660.00L701.25 667.00L704.75 641.25L708.25 642.00L711.75 643.75L715.50 640.00L719.00 646.25L722.50 647.50L726.00 656.25L729.50 658.75L733.25 652.50L736.75 653.00L740.25 655.00L743.75 653.00L747.50 665.00L751.00 635.00L754.50 602.50L758.00 600.00L761.50 590.50L765.25 586.25L768.75 589.50L772.25 601.25L775.75 612.50L779.50 615.50L783.00 618.75L786.50 622.50L790.00 626.25L793.50 599.50L797.25 602.50L800.75 621.25L804.25 625.00L807.75 626.25L811.25 639.50L815.00 645.00L818.50 655.50L822.00 646.75L825.50 650.50L829.25 649.50L832.75 650.50L836.25 660.00L839.75 650.00L843.25 638.75L847.00 641.25L850.50 656.25L854.00 660.00L857.75 677.50L861.25 677.00L864.75 665.00L868.25 668.00L872.00 672.50L875.50 690.00L879.00 661.25L882.50 662.00L886.00 663.75L889.75 665.00L893.25 669.50L896.75 672.00L900.50 666.25L904.00 653.75L907.50 617.50L911.00 633.75L914.75 636.25L918.25 637.00L921.75 641.25L925.25 642.00L929.00 637.50L932.50 641.25L936.00 647.50L939.50 653.00L943.25 655.50L946.75 627.00L950.25 635.00L953.75 642.50L957.50 641.25L961.00 646.25L964.50 641.25L968.00 648.75L971.75 623.00L975.25 635.00L978.75 640.00L982.25 643.00L986.00 644.50L989.50 638.00L989.50 574.50L4.50 574.50z" fill="url(#ob)"/></g>
<g clip-path="url(#cr)">
<path d="M4.50 632.00C5.83 633.12 9.08 636.67 12.50 638.75C15.92 640.83 21.25 643.46 25.00 644.50C28.75 645.54 31.67 644.50 35.00 645.00C38.33 645.50 41.88 647.21 45.00 647.50C48.12 647.79 50.83 646.21 53.75 646.75C56.67 647.29 59.38 649.38 62.50 650.75C65.62 652.12 69.17 654.00 72.50 655.00C75.83 656.00 79.17 656.83 82.50 656.75C85.83 656.67 89.58 655.33 92.50 654.50C95.42 653.67 97.50 653.00 100.00 651.75C102.50 650.50 105.00 648.96 107.50 647.00C110.00 645.04 112.29 642.00 115.00 640.00C117.71 638.00 120.83 637.71 123.75 635.00C126.67 632.29 129.38 627.29 132.50 623.75C135.62 620.21 139.58 616.88 142.50 613.75C145.42 610.62 147.50 608.12 150.00 605.00C152.50 601.88 155.00 598.96 157.50 595.00C160.00 591.04 162.71 585.21 165.00 581.25C167.29 577.29 169.38 572.92 171.25 571.25C173.12 569.58 173.96 570.92 176.25 571.25C178.54 571.58 182.08 572.42 185.00 573.25C187.92 574.08 191.25 574.71 193.75 576.25C196.25 577.79 197.71 579.38 200.00 582.50C202.29 585.62 205.00 590.62 207.50 595.00C210.00 599.38 212.71 604.67 215.00 608.75C217.29 612.83 219.17 617.21 221.25 619.50C223.33 621.79 225.21 621.92 227.50 622.50C229.79 623.08 232.71 622.71 235.00 623.00C237.29 623.29 238.75 624.42 241.25 624.25C243.75 624.08 247.29 623.12 250.00 622.00C252.71 620.88 255.00 618.79 257.50 617.50C260.00 616.21 262.29 614.96 265.00 614.25C267.71 613.54 271.25 613.25 273.75 613.25C276.25 613.25 277.96 613.88 280.00 614.25C282.04 614.62 283.75 614.75 286.00 615.50C288.25 616.25 291.00 617.67 293.50 618.75C296.00 619.83 298.08 621.04 301.00 622.00C303.92 622.96 308.08 623.92 311.00 624.50C313.92 625.08 315.58 625.42 318.50 625.50C321.42 625.58 325.58 624.75 328.50 625.00C331.42 625.25 333.50 627.21 336.00 627.00C338.50 626.79 341.00 625.12 343.50 623.75C346.00 622.38 348.50 621.04 351.00 618.75C353.50 616.46 356.00 612.71 358.50 610.00C361.00 607.29 363.50 604.79 366.00 602.50C368.50 600.21 371.00 598.12 373.50 596.25C376.00 594.38 378.71 592.21 381.00 591.25C383.29 590.29 385.17 589.96 387.25 590.50C389.33 591.04 391.42 593.12 393.50 594.50C395.58 595.88 397.67 596.38 399.75 598.75C401.83 601.12 403.71 605.71 406.00 608.75C408.29 611.79 411.21 614.92 413.50 617.00C415.79 619.08 417.67 619.92 419.75 621.25C421.83 622.58 423.29 624.04 426.00 625.00C428.71 625.96 433.08 627.21 436.00 627.00C438.92 626.79 441.00 624.71 443.50 623.75C446.00 622.79 448.08 620.96 451.00 621.25C453.92 621.54 457.67 624.46 461.00 625.50C464.33 626.54 468.08 625.92 471.00 627.50C473.92 629.08 476.00 632.71 478.50 635.00C481.00 637.29 483.50 639.38 486.00 641.25C488.50 643.12 491.00 644.79 493.50 646.25C496.00 647.71 498.08 650.08 501.00 650.00C503.92 649.92 507.67 646.67 511.00 645.75C514.33 644.83 518.08 644.96 521.00 644.50C523.92 644.04 526.00 643.33 528.50 643.00C531.00 642.67 533.50 642.17 536.00 642.50C538.50 642.83 541.00 644.08 543.50 645.00C546.00 645.92 548.08 647.38 551.00 648.00C553.92 648.62 557.67 648.54 561.00 648.75C564.33 648.96 567.92 648.96 571.00 649.25C574.08 649.54 576.83 650.17 579.50 650.50C582.17 650.83 584.50 651.46 587.00 651.25C589.50 651.04 592.21 649.75 594.50 649.25C596.79 648.75 598.46 647.79 600.75 648.25C603.04 648.71 605.75 650.96 608.25 652.00C610.75 653.04 613.04 654.25 615.75 654.50C618.46 654.75 621.38 653.96 624.50 653.50C627.62 653.04 631.17 652.12 634.50 651.75C637.83 651.38 641.58 651.75 644.50 651.25C647.42 650.75 649.50 649.50 652.00 648.75C654.50 648.00 657.00 647.29 659.50 646.75C662.00 646.21 664.08 645.79 667.00 645.50C669.92 645.21 674.08 645.17 677.00 645.00C679.92 644.83 681.79 644.50 684.50 644.50C687.21 644.50 690.33 644.29 693.25 645.00C696.17 645.71 698.88 648.33 702.00 648.75C705.12 649.17 709.08 647.62 712.00 647.50C714.92 647.38 717.00 647.67 719.50 648.00C722.00 648.33 724.08 649.00 727.00 649.50C729.92 650.00 733.67 650.79 737.00 651.00C740.33 651.21 744.08 651.54 747.00 650.75C749.92 649.96 752.00 648.25 754.50 646.25C757.00 644.25 759.50 641.38 762.00 638.75C764.50 636.12 767.00 633.00 769.50 630.50C772.00 628.00 774.50 625.71 777.00 623.75C779.50 621.79 782.00 620.62 784.50 618.75C787.00 616.88 789.92 614.38 792.00 612.50C794.08 610.62 795.54 608.54 797.00 607.50C798.46 606.46 799.08 605.92 800.75 606.25C802.42 606.58 804.71 607.71 807.00 609.50C809.29 611.29 812.00 614.42 814.50 617.00C817.00 619.58 819.50 622.75 822.00 625.00C824.50 627.25 827.00 628.83 829.50 630.50C832.00 632.17 834.50 633.42 837.00 635.00C839.50 636.58 842.00 638.33 844.50 640.00C847.00 641.67 849.92 643.46 852.00 645.00C854.08 646.54 854.75 647.38 857.00 649.25C859.25 651.12 862.83 654.46 865.50 656.25C868.17 658.04 870.50 659.04 873.00 660.00C875.50 660.96 878.00 661.38 880.50 662.00C883.00 662.62 885.50 662.92 888.00 663.75C890.50 664.58 893.00 666.17 895.50 667.00C898.00 667.83 900.50 669.50 903.00 668.75C905.50 668.00 908.00 664.38 910.50 662.50C913.00 660.62 915.50 659.38 918.00 657.50C920.50 655.62 923.00 652.83 925.50 651.25C928.00 649.67 930.50 648.96 933.00 648.00C935.50 647.04 938.21 646.62 940.50 645.50C942.79 644.38 944.88 642.25 946.75 641.25C948.62 640.25 949.88 639.50 951.75 639.50C953.62 639.50 955.71 640.75 958.00 641.25C960.29 641.75 963.00 642.50 965.50 642.50C968.00 642.50 970.50 641.46 973.00 641.25C975.50 641.04 977.75 641.38 980.50 641.25C983.25 641.12 988.00 640.62 989.50 640.50" stroke="#fdd835" stroke-width="1.15" fill="none"/>
<path d="M4.50 667.50L7.00 655.00L10.50 644.50L14.00 645.50L17.50 631.25L21.00 624.50L24.50 632.50L28.00 645.50L31.50 646.25L35.00 648.75L38.75 652.00L42.25 655.50L45.75 659.50L49.25 656.25L53.00 655.50L56.50 666.25L60.00 674.50L63.50 677.50L67.00 649.50L70.75 646.25L74.25 647.50L77.75 654.50L81.25 651.25L85.00 645.00L88.50 633.25L92.00 640.00L95.50 651.25L99.25 628.75L102.75 623.00L106.25 637.50L109.75 635.00L113.25 621.25L116.75 627.50L120.50 622.50L124.00 610.00L127.50 588.75L131.00 583.00L134.50 590.50L138.25 589.50L141.75 591.25L145.25 588.75L148.75 574.50L152.50 568.00L156.00 556.25L159.50 552.50L163.75 537.00L167.00 541.25L170.50 543.00L174.25 591.25L177.75 602.50L181.25 598.00L184.75 599.50L188.25 595.50L192.00 613.75L195.50 616.25L199.00 621.25L202.50 632.50L206.00 642.00L210.00 650.75L213.50 638.75L217.00 626.25L220.50 636.25L224.00 630.00L227.75 612.50L231.25 604.50L234.75 597.50L238.25 605.00L241.75 618.00L245.25 607.50L249.00 598.00L252.50 619.50L256.00 616.25L259.50 613.75L263.25 611.25L266.75 623.75L270.25 635.50L273.75 623.00L277.50 629.50L281.00 607.00L284.50 611.25L288.00 616.25L291.50 635.00L295.25 627.50L298.75 626.25L302.25 621.25L306.00 630.50L309.50 628.75L313.00 630.50L316.75 633.75L320.25 628.00L323.75 622.50L327.25 631.25L331.00 624.50L334.50 627.00L338.00 612.50L341.50 598.75L345.00 600.00L348.75 595.00L352.25 585.00L355.75 571.25L359.25 563.25L362.75 581.25L366.50 592.50L370.00 591.25L373.50 582.50L377.00 587.50L380.75 604.50L384.25 602.50L387.75 611.25L391.25 632.00L395.00 636.25L398.50 631.25L402.00 647.50L405.50 636.25L409.25 638.00L412.75 630.00L416.25 632.50L419.75 635.00L423.50 616.25L427.00 603.75L430.50 608.75L434.00 617.00L437.75 615.00L441.25 601.25L444.75 623.00L448.25 615.00L452.00 621.25L455.50 662.00L459.00 667.00L462.50 645.00L466.00 640.00L469.75 645.00L473.25 650.00L476.75 655.00L480.25 658.00L483.75 652.50L487.50 647.00L491.00 641.25L494.50 646.25L498.00 649.50L501.75 643.75L505.25 640.00L508.75 640.50L512.25 628.75L516.00 635.00L519.50 641.25L523.00 643.00L526.50 652.50L530.25 647.00L533.75 645.50L537.25 646.25L540.75 664.50L544.50 669.50L548.00 660.00L551.50 664.50L555.00 638.75L558.50 641.25L562.25 636.25L565.75 633.00L569.25 645.00L573.25 647.00L576.75 653.75L580.25 660.00L583.75 650.00L587.50 656.25L591.00 661.25L594.50 645.00L598.00 652.50L601.50 658.75L605.25 666.25L608.75 666.25L612.25 655.00L615.75 644.50L619.50 642.00L623.00 639.25L626.50 642.50L630.00 646.25L633.75 649.50L637.25 654.50L640.75 666.25L644.25 642.50L648.00 632.50L651.50 639.50L655.00 649.50L658.50 649.00L662.00 650.50L665.50 642.00L669.25 631.25L672.75 638.75L676.25 642.50L679.75 648.25L683.25 643.75L687.00 651.25L690.50 657.50L694.00 653.00L697.50 660.00L701.25 667.00L704.75 641.25L708.25 642.00L711.75 643.75L715.50 640.00L719.00 646.25L722.50 647.50L726.00 656.25L729.50 658.75L733.25 652.50L736.75 653.00L740.25 655.00L743.75 653.00L747.50 665.00L751.00 635.00L754.50 602.50L758.00 600.00L761.50 590.50L765.25 586.25L768.75 589.50L772.25 601.25L775.75 612.50L779.50 615.50L783.00 618.75L786.50 622.50L790.00 626.25L793.50 599.50L797.25 602.50L800.75 621.25L804.25 625.00L807.75 626.25L811.25 639.50L815.00 645.00L818.50 655.50L822.00 646.75L825.50 650.50L829.25 649.50L832.75 650.50L836.25 660.00L839.75 650.00L843.25 638.75L847.00 641.25L850.50 656.25L854.00 660.00L857.75 677.50L861.25 677.00L864.75 665.00L868.25 668.00L872.00 672.50L875.50 690.00L879.00 661.25L882.50 662.00L886.00 663.75L889.75 665.00L893.25 669.50L896.75 672.00L900.50 666.25L904.00 653.75L907.50 617.50L911.00 633.75L914.75 636.25L918.25 637.00L921.75 641.25L925.25 642.00L929.00 637.50L932.50 641.25L936.00 647.50L939.50 653.00L943.25 655.50L946.75 627.00L950.25 635.00L953.75 642.50L957.50 641.25L961.00 646.25L964.50 641.25L968.00 648.75L971.75 623.00L975.25 635.00L978.75 640.00L982.25 643.00L986.00 644.50L989.50 638.00" stroke="#7e57c2" stroke-width="2.4" fill="none" stroke-linejoin="round" stroke-linecap="round"/>
</g>
<text x="4.50" y="12.90" font-size="10.8" font-weight="normal" fill="#131722" stroke="#131722" stroke-width="0.28" textLength="306.00" lengthAdjust="spacingAndGlyphs">ranadagger created with TradingView.com, Mar 09, 2026 14:06 UTC</text>
<text x="11.50" y="35.60" font-size="10.3" font-weight="normal" fill="#131722" stroke="#131722" stroke-width="0.28" textLength="159.70" lengthAdjust="spacingAndGlyphs">Dogecoin / TetherUS · 1D · Binance</text>
<text x="177.50" y="35.60" font-size="10.3" font-weight="normal" fill="#131722" stroke="#131722" stroke-width="0.28" textLength="6.50" lengthAdjust="spacingAndGlyphs">O</text>
<text x="184.50" y="35.60" font-size="10.3" font-weight="normal" fill="#26a69a" stroke="#26a69a" stroke-width="0.28" textLength="35.40" lengthAdjust="spacingAndGlyphs">0.08914</text>
<text x="226.40" y="35.60" font-size="10.3" font-weight="normal" fill="#131722" stroke="#131722" stroke-width="0.28" textLength="6.20" lengthAdjust="spacingAndGlyphs">H</text>
<text x="233.10" y="35.60" font-size="10.3" font-weight="normal" fill="#26a69a" stroke="#26a69a" stroke-width="0.28" textLength="35.40" lengthAdjust="spacingAndGlyphs">0.09246</text>
<text x="274.80" y="35.60" font-size="10.3" font-weight="normal" fill="#131722" stroke="#131722" stroke-width="0.28" textLength="4.80" lengthAdjust="spacingAndGlyphs">L</text>
<text x="280.00" y="35.60" font-size="10.3" font-weight="normal" fill="#26a69a" stroke="#26a69a" stroke-width="0.28" textLength="34.70" lengthAdjust="spacingAndGlyphs">0.08900</text>
<text x="321.90" y="35.60" font-size="10.3" font-weight="normal" fill="#131722" stroke="#131722" stroke-width="0.28" textLength="5.10" lengthAdjust="spacingAndGlyphs">C</text>
<text x="327.20" y="35.60" font-size="10.3" font-weight="normal" fill="#26a69a" stroke="#26a69a" stroke-width="0.28" textLength="35.30" lengthAdjust="spacingAndGlyphs">0.09141</text>
<text x="370.30" y="35.60" font-size="10.3" font-weight="normal" fill="#26a69a" stroke="#26a69a" stroke-width="0.28" textLength="81.70" lengthAdjust="spacingAndGlyphs">+0.00226 (+2.54%)</text>
<text x="11.50" y="49.90" font-size="10.3" font-weight="normal" fill="#131722" stroke="#131722" stroke-width="0.28" textLength="69.30" lengthAdjust="spacingAndGlyphs">EMA (20, close)</text>
<text x="86.90" y="49.90" font-size="10.3" font-weight="normal" fill="#2962ff" stroke="#2962ff" stroke-width="0.28" textLength="35.80" lengthAdjust="spacingAndGlyphs">0.09465</text>
<text x="11.50" y="64.60" font-size="10.3" font-weight="normal" fill="#131722" stroke="#131722" stroke-width="0.28" textLength="68.70" lengthAdjust="spacingAndGlyphs">SMA (50, close)</text>
<text x="86.50" y="64.60" font-size="10.3" font-weight="normal" fill="#f23645" stroke="#f23645" stroke-width="0.28" textLength="35.80" lengthAdjust="spacingAndGlyphs">0.10324</text>
<text x="11.30" y="544.90" font-size="10.3" font-weight="normal" fill="#131722" stroke="#131722" stroke-width="0.28" textLength="63.70" lengthAdjust="spacingAndGlyphs">RSI (14, close)</text>
<text x="82.50" y="544.90" font-size="10.3" font-weight="normal" fill="#7e57c2" stroke="#7e57c2" stroke-width="0.28" textLength="24.50" lengthAdjust="spacingAndGlyphs">43.85</text>
<text x="113.80" y="544.90" font-size="10.3" font-weight="normal" fill="#fdd835" stroke="#fdd835" stroke-width="0.28" textLength="24.20" lengthAdjust="spacingAndGlyphs">42.78</text>
<text x="1089.60" y="63.20" font-size="10.3" font-weight="normal" fill="#131722" stroke="#131722" stroke-width="0.28" textLength="35.30" lengthAdjust="spacingAndGlyphs">0.30000</text>
<text x="1089.60" y="103.46" font-size="10.3" font-weight="normal" fill="#131722" stroke="#131722" stroke-width="0.28" textLength="35.30" lengthAdjust="spacingAndGlyphs">0.28000</text>
<text x="1089.60" y="143.72" font-size="10.3" font-weight="normal" fill="#131722" stroke="#131722" stroke-width="0.28" textLength="35.30" lengthAdjust="spacingAndGlyphs">0.26000</text>
<text x="1089.60" y="183.98" font-size="10.3" font-weight="normal" fill="#131722" stroke="#131722" stroke-width="0.28" textLength="35.30" lengthAdjust="spacingAndGlyphs">0.24000</text>
<text x="1089.60" y="224.24" font-size="10.3" font-weight="normal" fill="#131722" stroke="#131722" stroke-width="0.28" textLength="35.30" lengthAdjust="spacingAndGlyphs">0.22000</text>
<text x="1089.60" y="264.50" font-size="10.3" font-weight="normal" fill="#131722" stroke="#131722" stroke-width="0.28" textLength="35.30" lengthAdjust="spacingAndGlyphs">0.20000</text>
<text x="1089.60" y="304.76" font-size="10.3" font-weight="normal" fill="#131722" stroke="#131722" stroke-width="0.28" textLength="35.30" lengthAdjust="spacingAndGlyphs">0.18000</text>
<text x="1089.60" y="385.28" font-size="10.3" font-weight="normal" fill="#131722" stroke="#131722" stroke-width="0.28" textLength="35.30" lengthAdjust="spacingAndGlyphs">0.14000</text>
<text x="1089.70" y="553.80" font-size="10.3" font-weight="normal" fill="#131722" stroke="#131722" stroke-width="0.28" textLength="25.10" lengthAdjust="spacingAndGlyphs">80.00</text>
<text x="1089.70" y="602.30" font-size="10.3" font-weight="normal" fill="#131722" stroke="#131722" stroke-width="0.28" textLength="25.10" lengthAdjust="spacingAndGlyphs">60.00</text>
<text x="1089.70" y="699.50" font-size="10.3" font-weight="normal" fill="#131722" stroke="#131722" stroke-width="0.28" textLength="25.10" lengthAdjust="spacingAndGlyphs">20.00</text>
<rect x="1085.5" y="23.5" width="51" height="22" rx="3.5" fill="#fff" stroke="#e0e3eb" stroke-width="1"/>
<text x="1093.00" y="38.60" font-size="10.3" font-weight="normal" fill="#131722" stroke="#131722" stroke-width="0.28" textLength="23.00" lengthAdjust="spacingAndGlyphs">USDT</text>
<text x="89.75" y="715.20" font-size="10.3" font-weight="normal" fill="#131722" stroke="#131722" stroke-width="0.28" textLength="13.50" lengthAdjust="spacingAndGlyphs">Jul</text>
<text x="197.83" y="715.20" font-size="10.3" font-weight="normal" fill="#131722" stroke="#131722" stroke-width="0.28" textLength="18.00" lengthAdjust="spacingAndGlyphs">Aug</text>
<text x="308.66" y="715.20" font-size="10.3" font-weight="normal" fill="#131722" stroke="#131722" stroke-width="0.28" textLength="17.00" lengthAdjust="spacingAndGlyphs">Sep</text>
<text x="416.18" y="715.20" font-size="10.3" font-weight="normal" fill="#131722" stroke="#131722" stroke-width="0.28" textLength="15.50" lengthAdjust="spacingAndGlyphs">Oct</text>
<text x="525.51" y="715.20" font-size="10.3" font-weight="normal" fill="#131722" stroke="#131722" stroke-width="0.28" textLength="17.50" lengthAdjust="spacingAndGlyphs">Nov</text>
<text x="632.28" y="715.20" font-size="10.3" font-weight="normal" fill="#131722" stroke="#131722" stroke-width="0.28" textLength="17.50" lengthAdjust="spacingAndGlyphs">Dec</text>
<text x="739.36" y="715.20" font-size="10.3" font-weight="bold" fill="#131722" stroke="#131722" stroke-width="0.0" textLength="24.00" lengthAdjust="spacingAndGlyphs">2026</text>
<text x="853.44" y="715.20" font-size="10.3" font-weight="normal" fill="#131722" stroke="#131722" stroke-width="0.28" textLength="16.50" lengthAdjust="spacingAndGlyphs">Feb</text>
<text x="952.84" y="715.20" font-size="10.3" font-weight="normal" fill="#131722" stroke="#131722" stroke-width="0.28" textLength="17.00" lengthAdjust="spacingAndGlyphs">Mar</text>
<text x="1062.42" y="715.20" font-size="10.3" font-weight="normal" fill="#131722" stroke="#131722" stroke-width="0.28" textLength="15.50" lengthAdjust="spacingAndGlyphs">Apr</text>
<rect x="1083.00" y="72.20" width="47.30" height="14.60" rx="1.5" fill="#0000ff"/>
<text x="1089.60" y="83.30" font-size="10.3" font-weight="normal" fill="#fff" stroke="#fff" stroke-width="0.28" textLength="35.30" lengthAdjust="spacingAndGlyphs">0.29000</text>
<rect x="1083.00" y="334.00" width="47.30" height="14.60" rx="1.5" fill="#0000ff"/>
<text x="1089.60" y="345.10" font-size="10.3" font-weight="normal" fill="#fff" stroke="#fff" stroke-width="0.28" textLength="35.30" lengthAdjust="spacingAndGlyphs">0.16000</text>
<rect x="1083.00" y="414.60" width="47.30" height="14.60" rx="1.5" fill="#0000ff"/>
<text x="1089.60" y="425.70" font-size="10.3" font-weight="normal" fill="#fff" stroke="#fff" stroke-width="0.28" textLength="35.30" lengthAdjust="spacingAndGlyphs">0.12000</text>
<rect x="1039.80" y="443.60" width="42.50" height="14.60" rx="1.5" fill="#f23645"/>
<text x="1044.00" y="454.50" font-size="10.3" font-weight="normal" fill="#fff" stroke="#fff" stroke-width="0.28" textLength="34.80" lengthAdjust="spacingAndGlyphs">SMA:MA</text>
<rect x="1083.00" y="443.60" width="47.30" height="14.60" rx="1.5" fill="#f23645"/>
<text x="1089.60" y="454.70" font-size="10.3" font-weight="normal" fill="#fff" stroke="#fff" stroke-width="0.28" textLength="35.30" lengthAdjust="spacingAndGlyphs">0.10324</text>
<rect x="1056.00" y="458.20" width="26.30" height="14.10" rx="1.5" fill="#2962ff"/>
<text x="1060.00" y="469.10" font-size="10.3" font-weight="normal" fill="#fff" stroke="#fff" stroke-width="0.28" textLength="18.80" lengthAdjust="spacingAndGlyphs">EMA</text>
<rect x="1083.00" y="458.20" width="47.30" height="14.10" rx="1.5" fill="#2962ff"/>
<text x="1089.60" y="469.05" font-size="10.3" font-weight="normal" fill="#fff" stroke="#fff" stroke-width="0.28" textLength="35.30" lengthAdjust="spacingAndGlyphs">0.09465</text>
<rect x="1026.20" y="472.20" width="56.10" height="14.60" rx="1.5" fill="#26a69a"/>
<text x="1029.80" y="483.30" font-size="10.3" font-weight="normal" fill="#fff" stroke="#fff" stroke-width="0.28" textLength="48.10" lengthAdjust="spacingAndGlyphs">DOGEUSDT</text>
<rect x="1083.00" y="472.20" width="50.60" height="38.20" rx="1.5" fill="#26a69a"/>
<text x="1089.60" y="483.30" font-size="10.3" font-weight="normal" fill="#fff" stroke="#fff" stroke-width="0.28" textLength="35.30" lengthAdjust="spacingAndGlyphs">0.09141</text>
<text x="1089.60" y="495.20" font-size="10.3" font-weight="normal" fill="#fff" stroke="#fff" stroke-width="0.28" textLength="36.40" lengthAdjust="spacingAndGlyphs">−51.41%</text>
<text x="1089.6" y="507" font-size="10.3" fill="#fff" fill-opacity="0.8" textLength="39" lengthAdjust="spacingAndGlyphs">09:53:07</text>
<rect x="1083.00" y="511.00" width="47.30" height="14.00" rx="1.5" fill="#0000ff"/>
<text x="1089.60" y="521.80" font-size="10.3" font-weight="normal" fill="#fff" stroke="#fff" stroke-width="0.28" textLength="35.30" lengthAdjust="spacingAndGlyphs">0.09000</text>
<rect x="1061.00" y="631.20" width="21.30" height="14.10" rx="1.5" fill="#7e57c2"/>
<text x="1065.00" y="642.00" font-size="10.3" font-weight="normal" fill="#fff" stroke="#fff" stroke-width="0.28" textLength="13.00" lengthAdjust="spacingAndGlyphs">RSI</text>
<rect x="1083.00" y="631.20" width="36.00" height="14.10" rx="1.5" fill="#7e57c2"/>
<text x="1089.70" y="642.00" font-size="10.3" font-weight="normal" fill="#fff" stroke="#fff" stroke-width="0.28" textLength="25.10" lengthAdjust="spacingAndGlyphs">43.85</text>
<rect x="1015.30" y="645.30" width="67.00" height="14.70" rx="1.5" fill="#fdd835"/>
<text x="1019.00" y="656.60" font-size="10.3" font-weight="normal" fill="#131722" stroke="#131722" stroke-width="0.28" textLength="59.00" lengthAdjust="spacingAndGlyphs">RSI-based MA</text>
<rect x="1083.00" y="645.30" width="36.00" height="14.70" rx="1.5" fill="#fdd835"/>
<text x="1089.70" y="656.60" font-size="10.3" font-weight="normal" fill="#131722" stroke="#131722" stroke-width="0.28" textLength="25.10" lengthAdjust="spacingAndGlyphs">42.78</text>
<circle cx="990.0" cy="517.7" r="8.3" fill="#fff" stroke="#9c27b0" stroke-width="1.45"/>
<path d="M992.0 513.2L986.6 517.6L989.9 517.8000000000001L987.6 522.0L993.6 517.2L990.5 517.0z" fill="#9c27b0" stroke="#9c27b0" stroke-width="0.5" stroke-linejoin="round"/>
<circle cx="995.95" cy="511.70000000000005" r="3.5" fill="#fff"/><circle cx="995.95" cy="511.70000000000005" r="2.2" fill="#f23645"/>
<g fill="#111"><path d="M6.2 742.2H16.6V754H10.7V747.7H6.2z"/><circle cx="20.3" cy="744.4" r="1.95"/><path d="M24.3 742.2H31.2L25.9 754H19.7z"/></g>
<text x="38.00" y="754.00" font-size="17.1" font-weight="bold" fill="#111" stroke="#111" stroke-width="0.0" textLength="101.50" lengthAdjust="spacingAndGlyphs">TradingView</text>
</svg>
</body></html>
